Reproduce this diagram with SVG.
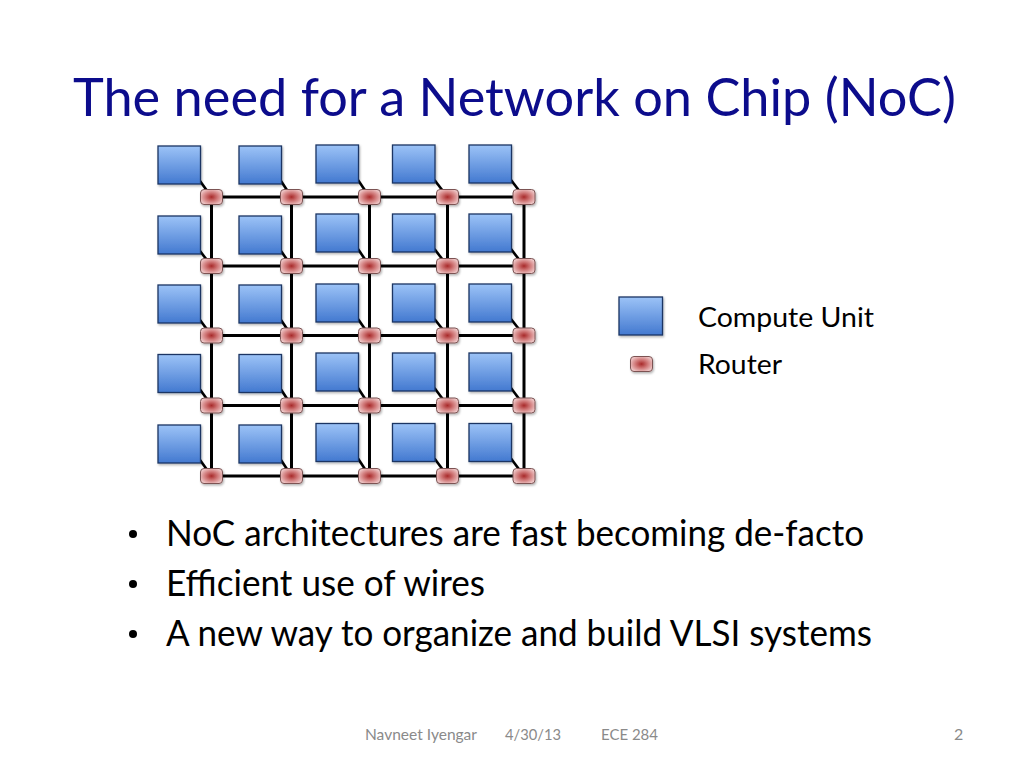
<svg xmlns="http://www.w3.org/2000/svg" width="1024" height="768" viewBox="0 0 1024 768">
<defs>
<linearGradient id="cuGrad" x1="0" y1="0" x2="0" y2="1">
<stop offset="0" stop-color="#9cc3f7"/>
<stop offset="1" stop-color="#4379d0"/>
</linearGradient>
<radialGradient id="rtGrad" cx="0.5" cy="0.5" r="0.6">
<stop offset="0" stop-color="#a82a2a"/>
<stop offset="0.45" stop-color="#cf7676"/>
<stop offset="1" stop-color="#f3d2d2"/>
</radialGradient>
<filter id="shadow" x="-20%" y="-20%" width="150%" height="150%">
<feDropShadow dx="1" dy="1.5" stdDeviation="1" flood-color="#000" flood-opacity="0.3"/>
</filter>
</defs>
<style>
.cu{fill:url(#cuGrad);stroke:#1b3564;stroke-width:1.3;filter:url(#shadow)}
.rt{fill:url(#rtGrad);stroke:#7b5252;stroke-width:1;filter:url(#shadow)}
.mesh{stroke:#000;stroke-width:3;fill:none}
.link{stroke:#000;stroke-width:2.6;fill:none}
.title{font-family:Lato,"Open Sans","Liberation Sans",sans-serif;font-size:53px;fill:#0c0c8c}
.body{font-family:Lato,"Open Sans","Liberation Sans",sans-serif;font-size:36px;fill:#000}
.legend{font-family:Lato,"Open Sans","Liberation Sans",sans-serif;font-size:26px;fill:#000}
.foot{font-family:Lato,"Open Sans","Liberation Sans",sans-serif;font-size:16px;fill:#8a8a8a}
</style>
<rect width="1024" height="768" fill="#fff"/>
<text class="title" x="73" y="116" textLength="883" lengthAdjust="spacingAndGlyphs">The need for a Network on Chip (NoC)</text>

<g id="connectors">
<line class="mesh" x1="211.5" y1="197" x2="524" y2="197"/>
<line class="mesh" x1="211.5" y1="266" x2="524" y2="266"/>
<line class="mesh" x1="211.5" y1="335.5" x2="524" y2="335.5"/>
<line class="mesh" x1="211.5" y1="405.5" x2="524" y2="405.5"/>
<line class="mesh" x1="211.5" y1="476" x2="524" y2="476"/>
<line class="mesh" x1="211.5" y1="197" x2="211.5" y2="476"/>
<line class="mesh" x1="291.5" y1="197" x2="291.5" y2="476"/>
<line class="mesh" x1="369.5" y1="197" x2="369.5" y2="476"/>
<line class="mesh" x1="447.5" y1="197" x2="447.5" y2="476"/>
<line class="mesh" x1="524" y1="197" x2="524" y2="476"/>
<line class="link" x1="200" y1="181" x2="211.5" y2="197"/>
<line class="link" x1="281" y1="181" x2="291.5" y2="197"/>
<line class="link" x1="358" y1="180" x2="369.5" y2="197"/>
<line class="link" x1="434.5" y1="180" x2="447.5" y2="197"/>
<line class="link" x1="511" y1="180" x2="524" y2="197"/>
<line class="link" x1="200" y1="251" x2="211.5" y2="266"/>
<line class="link" x1="281" y1="251" x2="291.5" y2="266"/>
<line class="link" x1="358" y1="249" x2="369.5" y2="266"/>
<line class="link" x1="434.5" y1="249" x2="447.5" y2="266"/>
<line class="link" x1="511" y1="249" x2="524" y2="266"/>
<line class="link" x1="200" y1="320" x2="211.5" y2="335.5"/>
<line class="link" x1="281" y1="320" x2="291.5" y2="335.5"/>
<line class="link" x1="358" y1="319" x2="369.5" y2="335.5"/>
<line class="link" x1="434.5" y1="319" x2="447.5" y2="335.5"/>
<line class="link" x1="511" y1="319" x2="524" y2="335.5"/>
<line class="link" x1="200" y1="389.5" x2="211.5" y2="405.5"/>
<line class="link" x1="281" y1="389.5" x2="291.5" y2="405.5"/>
<line class="link" x1="358" y1="388" x2="369.5" y2="405.5"/>
<line class="link" x1="434.5" y1="388" x2="447.5" y2="405.5"/>
<line class="link" x1="511" y1="388" x2="524" y2="405.5"/>
<line class="link" x1="200" y1="460" x2="211.5" y2="476"/>
<line class="link" x1="281" y1="460" x2="291.5" y2="476"/>
<line class="link" x1="358" y1="458.5" x2="369.5" y2="476"/>
<line class="link" x1="434.5" y1="458.5" x2="447.5" y2="476"/>
<line class="link" x1="511" y1="458.5" x2="524" y2="476"/>
</g>

<g id="cu-1-1"><rect class="cu" x="158" y="146" width="42.5" height="38"/></g>
<g id="cu-1-2"><rect class="cu" x="239" y="146" width="42.5" height="38"/></g>
<g id="cu-1-3"><rect class="cu" x="316" y="145" width="42.5" height="38"/></g>
<g id="cu-1-4"><rect class="cu" x="392.5" y="145" width="42.5" height="38"/></g>
<g id="cu-1-5"><rect class="cu" x="469" y="145" width="42.5" height="38"/></g>
<g id="cu-2-1"><rect class="cu" x="158" y="216" width="42.5" height="38"/></g>
<g id="cu-2-2"><rect class="cu" x="239" y="216" width="42.5" height="38"/></g>
<g id="cu-2-3"><rect class="cu" x="316" y="214" width="42.5" height="38"/></g>
<g id="cu-2-4"><rect class="cu" x="392.5" y="214" width="42.5" height="38"/></g>
<g id="cu-2-5"><rect class="cu" x="469" y="214" width="42.5" height="38"/></g>
<g id="cu-3-1"><rect class="cu" x="158" y="285" width="42.5" height="38"/></g>
<g id="cu-3-2"><rect class="cu" x="239" y="285" width="42.5" height="38"/></g>
<g id="cu-3-3"><rect class="cu" x="316" y="284" width="42.5" height="38"/></g>
<g id="cu-3-4"><rect class="cu" x="392.5" y="284" width="42.5" height="38"/></g>
<g id="cu-3-5"><rect class="cu" x="469" y="284" width="42.5" height="38"/></g>
<g id="cu-4-1"><rect class="cu" x="158" y="354.5" width="42.5" height="38"/></g>
<g id="cu-4-2"><rect class="cu" x="239" y="354.5" width="42.5" height="38"/></g>
<g id="cu-4-3"><rect class="cu" x="316" y="353" width="42.5" height="38"/></g>
<g id="cu-4-4"><rect class="cu" x="392.5" y="353" width="42.5" height="38"/></g>
<g id="cu-4-5"><rect class="cu" x="469" y="353" width="42.5" height="38"/></g>
<g id="cu-5-1"><rect class="cu" x="158" y="425" width="42.5" height="38"/></g>
<g id="cu-5-2"><rect class="cu" x="239" y="425" width="42.5" height="38"/></g>
<g id="cu-5-3"><rect class="cu" x="316" y="423.5" width="42.5" height="38"/></g>
<g id="cu-5-4"><rect class="cu" x="392.5" y="423.5" width="42.5" height="38"/></g>
<g id="cu-5-5"><rect class="cu" x="469" y="423.5" width="42.5" height="38"/></g>

<g id="rt-1-1"><rect class="rt" x="200.5" y="189.5" width="22" height="15" rx="3.5"/></g>
<g id="rt-1-2"><rect class="rt" x="280.5" y="189.5" width="22" height="15" rx="3.5"/></g>
<g id="rt-1-3"><rect class="rt" x="358.5" y="189.5" width="22" height="15" rx="3.5"/></g>
<g id="rt-1-4"><rect class="rt" x="436.5" y="189.5" width="22" height="15" rx="3.5"/></g>
<g id="rt-1-5"><rect class="rt" x="513" y="189.5" width="22" height="15" rx="3.5"/></g>
<g id="rt-2-1"><rect class="rt" x="200.5" y="258.5" width="22" height="15" rx="3.5"/></g>
<g id="rt-2-2"><rect class="rt" x="280.5" y="258.5" width="22" height="15" rx="3.5"/></g>
<g id="rt-2-3"><rect class="rt" x="358.5" y="258.5" width="22" height="15" rx="3.5"/></g>
<g id="rt-2-4"><rect class="rt" x="436.5" y="258.5" width="22" height="15" rx="3.5"/></g>
<g id="rt-2-5"><rect class="rt" x="513" y="258.5" width="22" height="15" rx="3.5"/></g>
<g id="rt-3-1"><rect class="rt" x="200.5" y="328" width="22" height="15" rx="3.5"/></g>
<g id="rt-3-2"><rect class="rt" x="280.5" y="328" width="22" height="15" rx="3.5"/></g>
<g id="rt-3-3"><rect class="rt" x="358.5" y="328" width="22" height="15" rx="3.5"/></g>
<g id="rt-3-4"><rect class="rt" x="436.5" y="328" width="22" height="15" rx="3.5"/></g>
<g id="rt-3-5"><rect class="rt" x="513" y="328" width="22" height="15" rx="3.5"/></g>
<g id="rt-4-1"><rect class="rt" x="200.5" y="398" width="22" height="15" rx="3.5"/></g>
<g id="rt-4-2"><rect class="rt" x="280.5" y="398" width="22" height="15" rx="3.5"/></g>
<g id="rt-4-3"><rect class="rt" x="358.5" y="398" width="22" height="15" rx="3.5"/></g>
<g id="rt-4-4"><rect class="rt" x="436.5" y="398" width="22" height="15" rx="3.5"/></g>
<g id="rt-4-5"><rect class="rt" x="513" y="398" width="22" height="15" rx="3.5"/></g>
<g id="rt-5-1"><rect class="rt" x="200.5" y="468.5" width="22" height="15" rx="3.5"/></g>
<g id="rt-5-2"><rect class="rt" x="280.5" y="468.5" width="22" height="15" rx="3.5"/></g>
<g id="rt-5-3"><rect class="rt" x="358.5" y="468.5" width="22" height="15" rx="3.5"/></g>
<g id="rt-5-4"><rect class="rt" x="436.5" y="468.5" width="22" height="15" rx="3.5"/></g>
<g id="rt-5-5"><rect class="rt" x="513" y="468.5" width="22" height="15" rx="3.5"/></g>

<g id="legend-cu">
<rect class="cu" x="619" y="297" width="43.5" height="38"/>
<text class="legend" x="698" y="327" textLength="176" lengthAdjust="spacingAndGlyphs">Compute Unit</text>
</g>
<g id="legend-router">
<rect class="rt" x="630.5" y="356.5" width="22" height="15" rx="3.5"/>
<text class="legend" x="698" y="374" textLength="84" lengthAdjust="spacingAndGlyphs">Router</text>
</g>

<g id="bullets">
<circle cx="133" cy="534" r="4" fill="#000"/>
<text class="body" x="166" y="546" textLength="698" lengthAdjust="spacingAndGlyphs">NoC architectures are fast becoming de-facto</text>
<circle cx="133" cy="584" r="4" fill="#000"/>
<text class="body" x="166" y="596" textLength="319" lengthAdjust="spacingAndGlyphs">Efficient use of wires</text>
<circle cx="133" cy="634" r="4" fill="#000"/>
<text class="body" x="166" y="646" textLength="706" lengthAdjust="spacingAndGlyphs">A new way to organize and build VLSI systems</text>
</g>

<g id="footer">
<text class="foot" x="365" y="740" textLength="112" lengthAdjust="spacingAndGlyphs">Navneet Iyengar</text>
<text class="foot" x="505" y="740" textLength="56" lengthAdjust="spacingAndGlyphs">4/30/13</text>
<text class="foot" x="601" y="740" textLength="57" lengthAdjust="spacingAndGlyphs">ECE 284</text>
<text class="foot" x="954" y="740">2</text>
</g>
</svg>
